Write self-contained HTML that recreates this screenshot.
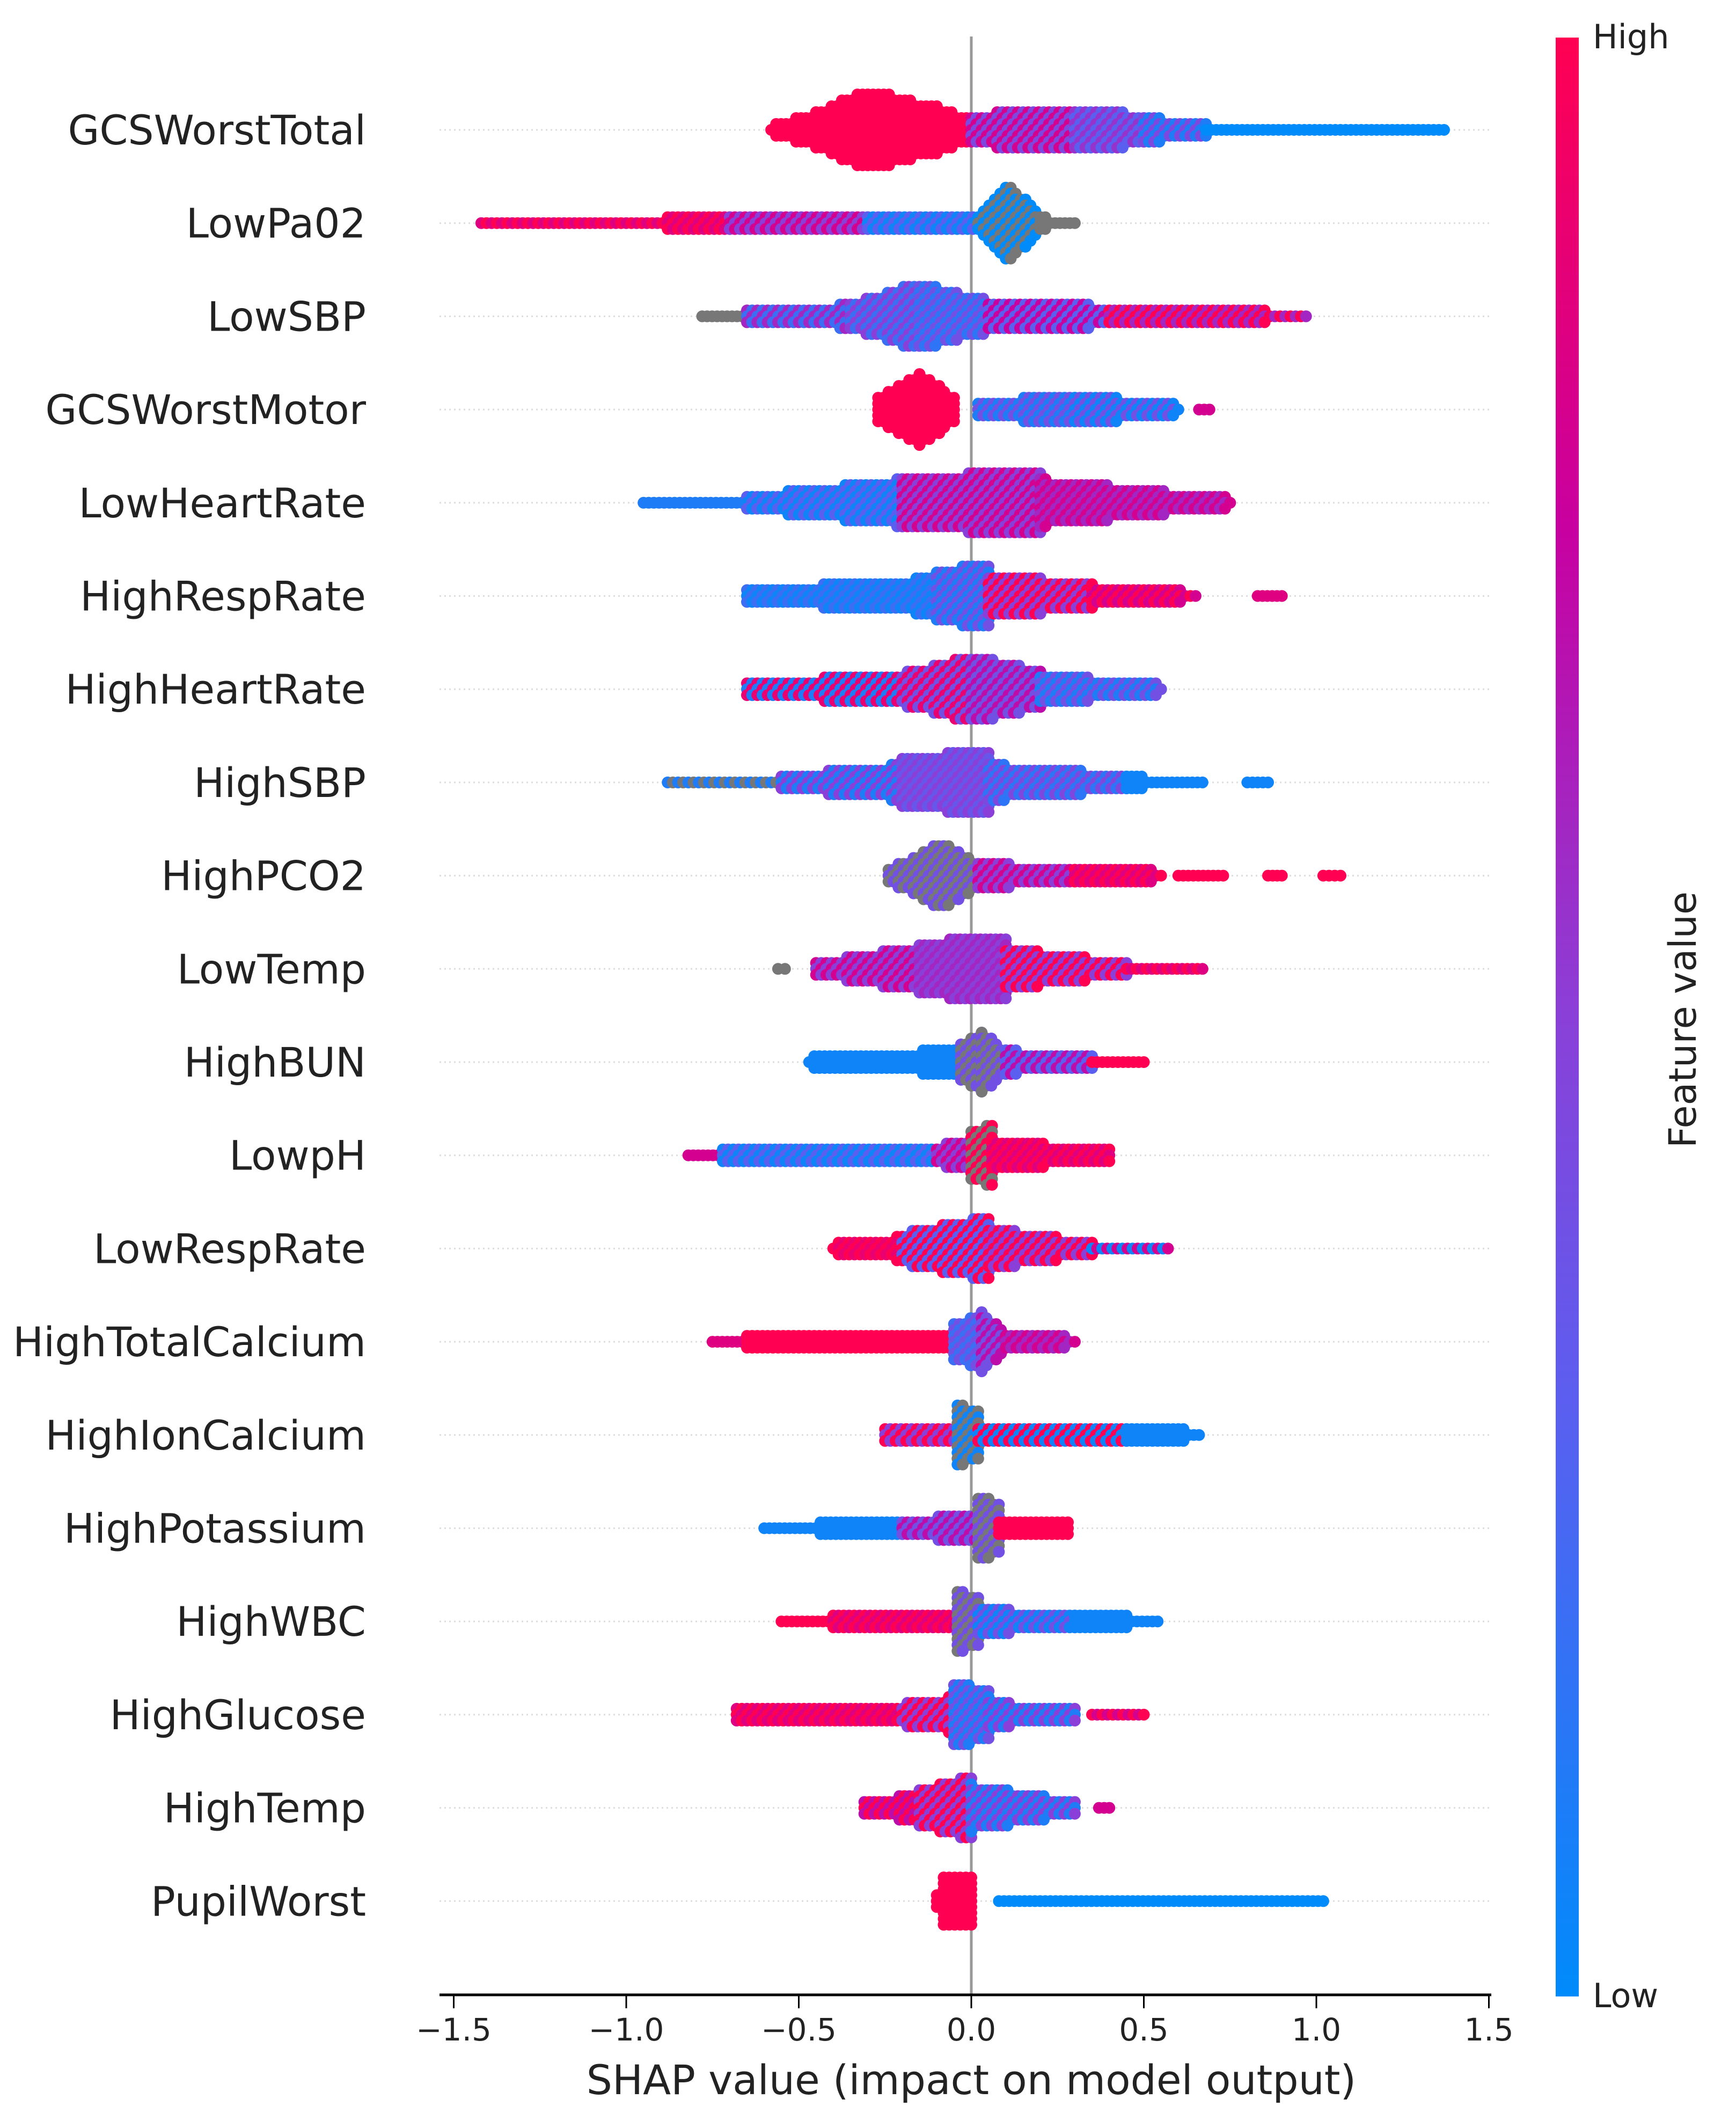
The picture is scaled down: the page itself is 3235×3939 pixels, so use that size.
<!DOCTYPE html>
<html><head><meta charset="utf-8"><style>html,body{margin:0;padding:0;background:#fff;}svg{display:block;}</style></head>
<body>
<svg id="chart" xmlns="http://www.w3.org/2000/svg" width="3235" height="3939" viewBox="0 0 3235 3939" font-family="DejaVu Sans, Liberation Sans, sans-serif">
<defs><linearGradient id="cb" x1="0" y1="1" x2="0" y2="0">
<stop offset="0" stop-color="#008bfb"/><stop offset="0.3" stop-color="#5a5ff0"/><stop offset="0.5" stop-color="#8a40d8"/><stop offset="0.75" stop-color="#c800a0"/><stop offset="1" stop-color="#ff0052"/></linearGradient></defs>
<g id="grid"></g>
<line x1="1810" y1="68" x2="1810" y2="3717" stroke="#999" stroke-width="5"/>
<g id="dots"></g>
<g id="labels"></g>
<line x1="819" y1="3717" x2="2779" y2="3717" stroke="#000" stroke-width="5"/>
<g id="xticks"></g>
<text x="1810" y="3902" font-size="76" text-anchor="middle" fill="#222">SHAP value (impact on model output)</text>
<rect x="2899" y="70" width="43" height="3650" fill="url(#cb)"/>
<text x="2968" y="90" font-size="62" fill="#222">High</text>
<text x="2968" y="3740" font-size="62" fill="#222">Low</text>
<text transform="translate(3160,1900) rotate(-90)" font-size="70" text-anchor="middle" fill="#222">Feature value</text>
</svg>
<script>
const features = ["GCSWorstTotal","LowPa02","LowSBP","GCSWorstMotor","LowHeartRate","HighRespRate","HighHeartRate","HighSBP","HighPCO2","LowTemp","HighBUN","LowpH","LowRespRate","HighTotalCalcium","HighIonCalcium","HighPotassium","HighWBC","HighGlucose","HighTemp","PupilWorst"];
const xTicks = [-1.5,-1.0,-0.5,0.0,0.5,1.0,1.5];
const xTickLabels = ["\u22121.5","\u22121.0","\u22120.5","0.0","0.5","1.0","1.5"];
// segments: [shapStart, shapEnd, halfHeightStart, halfHeightEnd, colorValue, altColorValue]  (-1 = missing/gray)
const seg0 = [[-0.58,-0.45,3,30,1],[-0.45,-0.3,30,70,1],[-0.3,-0.1,70,40,1],[-0.1,0,40,15,1],[0,0.3,25,35,0.8,0.45],[0.3,0.5,35,25,0.55,0.3],[0.5,0.68,20,8,0.45,0.1],[0.68,1.37,3,3,0]];
const seg1 = [[-1.42,-0.7,4,6,0.85,1],[-0.7,-0.3,6,8,0.5,0.8],[-0.3,0.02,8,12,0.05,0.3],[0.02,0.1,15,70,0,-1],[0.1,0.2,70,15,0,-1],[0.2,0.3,6,3,-1]];
const seg2 = [[-0.78,-0.65,4,4,-1],[-0.65,-0.35,6,18,0.6,0.2],[-0.35,-0.15,18,60,0.5,0.2],[-0.15,0.05,60,25,0.4,0.15],[0.05,0.4,25,15,0.75,0.3],[0.4,0.97,12,4,1,0.6]];
const seg3 = [[-0.27,-0.15,20,65,1],[-0.15,-0.05,65,20,1],[0.02,0.3,10,25,0.4,0.1],[0.3,0.6,25,5,0.4,0.05],[0.66,0.69,3,3,0.8]];
const seg4 = [[-0.95,-0.65,3,4,0.1],[-0.65,-0.2,8,40,0.3,0.05],[-0.2,0.2,40,60,0.5,0.8],[0.2,0.75,40,5,0.8,0.6]];
const seg5 = [[-0.65,-0.1,8,30,0.05,0.2],[-0.1,0.05,40,60,0.4,0.1],[0.05,0.35,35,20,1,0.5],[0.35,0.65,15,4,1,0.8],[0.83,0.9,4,4,0.85]];
const seg6 = [[-0.65,-0.2,8,25,0.1,0.9],[-0.2,0,25,60,0.9,0.4],[0,0.2,60,30,0.7,0.4],[0.2,0.55,25,5,0.4,0.1]];
const seg7 = [[-0.88,-0.55,4,4,0.1,-1],[-0.55,-0.2,8,30,0.5,0.1],[-0.2,0.05,40,60,0.5,0.35],[0.05,0.45,30,10,0.45,0.15],[0.45,0.67,6,4,0.05],[0.8,0.86,3,3,0.05]];
const seg8 = [[-0.24,-0.08,8,60,0.4,-1],[-0.08,0.02,60,20,0.4,-1],[0.02,0.3,20,10,0.5,0.8],[0.3,0.55,10,5,1,0.85],[0.6,0.73,3,3,1],[0.86,0.9,3,3,1],[1.02,1.07,3,3,1]];
const seg9 = [[-0.56,-0.54,3,3,-1],[-0.45,-0.15,8,40,0.8,0.5],[-0.15,0.1,45,60,0.5,0.6],[0.1,0.45,35,8,1,0.5],[0.45,0.67,4,3,1,0.85]];
const seg10 = [[-0.47,-0.05,5,20,0.05],[-0.03,0.03,30,55,0.4,-1],[0.03,0.1,55,20,0.4,-1],[0.1,0.35,18,6,0.7,0.3],[0.35,0.5,4,3,1]];
const seg11 = [[-0.82,-0.72,4,4,0.8],[-0.72,-0.1,6,12,0.05,0.3],[-0.1,0,12,30,0.5,0.8],[0,0.06,40,55,1,-1],[0.06,0.4,25,6,1,0.85]];
const seg12 = [[-0.4,-0.2,5,18,1,0.9],[-0.2,0.05,25,55,0.3,1],[0.05,0.35,35,8,0.5,1],[0.35,0.57,4,3,0.8,0.05]];
const seg13 = [[-0.75,-0.65,4,4,0.85],[-0.65,-0.05,6,12,1],[-0.05,0.03,30,50,0.4,0.2],[0.03,0.1,50,15,0.4,0.7],[0.1,0.3,15,4,0.6,0.8]];
const seg14 = [[-0.25,-0.05,8,15,0.5,1],[-0.04,0.02,55,40,0.05,-1],[0.02,0.45,12,8,0.05,1],[0.45,0.66,8,5,0.05]];
const seg15 = [[-0.6,-0.2,4,8,0.05],[-0.2,0.01,10,25,0.4,0.7],[0.02,0.08,55,45,0.4,-1],[0.08,0.28,15,6,1]];
const seg16 = [[-0.55,-0.4,3,5,1],[-0.4,-0.05,6,15,1,0.85],[-0.04,0.02,55,40,0.4,-1],[0.02,0.3,20,10,0.05,0.4],[0.3,0.54,8,4,0.05]];
const seg17 = [[-0.68,-0.2,6,15,1,0.85],[-0.2,-0.05,15,30,0.5,1],[-0.05,0.05,55,45,0.1,0.4],[0.05,0.3,20,6,0.1,0.5],[0.35,0.5,3,3,1,0.8]];
const seg18 = [[-0.31,-0.15,6,25,1,0.7],[-0.15,0.0,30,55,0.5,1],[0.0,0.3,40,8,0.1,0.5],[0.37,0.4,4,4,0.8]];
const seg19 = [[-0.1,-0.08,15,40,1],[-0.08,0,40,40,1],[0.08,1.02,4,4,0]];
const segments = [seg0,seg1,seg2,seg3,seg4,seg5,seg6,seg7,seg8,seg9,seg10,seg11,seg12,seg13,seg14,seg15,seg16,seg17,seg18,seg19];

const NS="http://www.w3.org/2000/svg";
const X0=1810, UNIT=643, Y0=242, ROWSTEP=173.7;
function xScale(v){return X0+v*UNIT;}
function yScale(i){return Y0+i*ROWSTEP;}
const stops=[[0,[0,139,251]],[0.3,[90,95,240]],[0.5,[138,64,216]],[0.75,[200,0,160]],[1,[255,0,82]]];
function color(v){
  if(v<0) return "#777777";
  for(let i=1;i<stops.length;i++){ if(v<=stops[i][0]){const a=stops[i-1],b=stops[i];const t=(v-a[0])/(b[0]-a[0]);
    const c=a[1].map((x,j)=>Math.round(x+(b[1][j]-x)*t));return `rgb(${c[0]},${c[1]},${c[2]})`;}}
  return "rgb(255,0,82)";
}
const grid=document.getElementById('grid'), dots=document.getElementById('dots'), labels=document.getElementById('labels'), xt=document.getElementById('xticks');
features.forEach((f,i)=>{
  const y=yScale(i);
  const g=document.createElementNS(NS,'line');
  
  
  g.setAttribute('x1',819);g.setAttribute('x2',2779);g.setAttribute('y1',y);g.setAttribute('y2',y);
  g.setAttribute('stroke','#ddd');g.setAttribute('stroke-width','3');g.setAttribute('stroke-dasharray','3,6');
  grid.appendChild(g);
  const t=document.createElementNS(NS,'text');
  
  
  t.setAttribute('x',682);t.setAttribute('y',y+27);t.setAttribute('text-anchor','end');t.setAttribute('font-size','76');t.setAttribute('fill','#222');
  t.textContent=f;labels.appendChild(t);
  const row=document.createElementNS(NS,'g');
  
  
  let idx=0;
  segments[i].forEach(s=>{
    const [a,b,h1,h2,c1,c2]=s;
    const steps=Math.max(1,Math.round((b-a)/0.015));
    for(let k=0;k<=steps;k++){
      const v=a+(b-a)*k/steps; const h=h1+(h2-h1)*k/steps;
      const n=Math.round(h/11);
      for(let m=-n;m<=n;m++){
        const col=(c2!==undefined && ((k+m+idx)%2!==0))?c2:c1;
        const d=document.createElementNS(NS,'circle');
        d.setAttribute('cx',xScale(v).toFixed(1));d.setAttribute('cy',(y+m*11).toFixed(1));d.setAttribute('r',11);
        d.setAttribute('fill',color(col));
        row.appendChild(d);
      }
    }
    idx++;
  });
  dots.appendChild(row);
});
xTicks.forEach((v,i)=>{
  const x=xScale(v);
  const l=document.createElementNS(NS,'line');
  
  
  l.setAttribute('x1',x);l.setAttribute('x2',x);l.setAttribute('y1',3717);l.setAttribute('y2',3742);l.setAttribute('stroke','#000');l.setAttribute('stroke-width','3');
  xt.appendChild(l);
  const t=document.createElementNS(NS,'text');
  
  
  t.setAttribute('x',x);t.setAttribute('y',3802);t.setAttribute('text-anchor','middle');t.setAttribute('font-size','58');t.setAttribute('fill','#222');
  t.textContent=xTickLabels[i];xt.appendChild(t);
});
</script>
</body></html>
